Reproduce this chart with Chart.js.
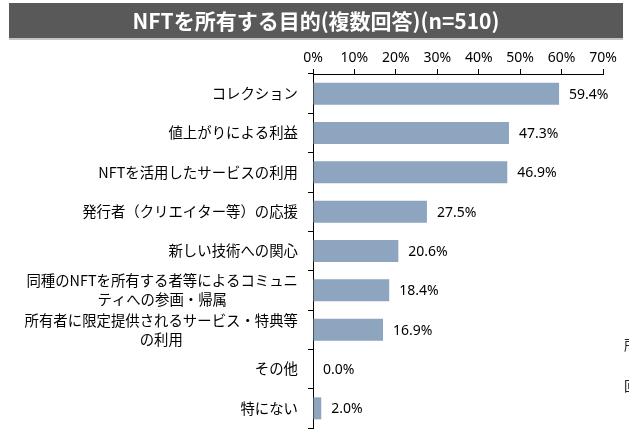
<!DOCTYPE html>
<html lang="ja">
<head>
<meta charset="utf-8">
<script src="https://cdn.jsdelivr.net/npm/chart.js@4.4.1/dist/chart.umd.min.js"></script>
<style>
  html, body { margin: 0; padding: 0; background: #fff; }
  #wrap { position: relative; width: 629px; height: 442px; overflow: hidden; }
  #c { position: absolute; left: 0; top: 0; }
  #title { position: absolute; left: 9px; top: 3px; width: 614px; height: 35px; background: #595959;
    color: #fff; font: bold 21px "Noto Sans CJK JP", sans-serif; line-height: 35px; text-align: center;
    box-shadow: 0 2px 0 #c4c4c4; }
  .stray { position: absolute; left: 624px; width: 5px; height: 16px; overflow: hidden;
    font: 14px "Noto Sans CJK JP", sans-serif; line-height: 16px; color: #222; }
</style>
</head>
<body>
<div id="wrap">
  <canvas id="c" width="629" height="442"></canvas>
  <div id="title">NFTを所有する目的(複数回答)(n=510)</div>
  <div class="stray" style="top:336px">所</div>
  <div class="stray" style="top:377px">回</div>
</div>
<script>
const categories = [
  "コレクション",
  "値上がりによる利益",
  "NFTを活用したサービスの利用",
  "発行者（クリエイター等）の応援",
  "新しい技術への関心",
  ["同種のNFTを所有する者等によるコミュニ", "ティへの参画・帰属"],
  ["所有者に限定提供されるサービス・特典等", "の利用"],
  "その他",
  "特にない"
];
const values = [59.4, 47.3, 46.9, 27.5, 20.6, 18.4, 16.9, 0.0, 2.0];
const tickValues = [0, 10, 20, 30, 40, 50, 60, 70];

const valueLabels = {
  id: 'valueLabels',
  afterDatasetsDraw(chart) {
    const ctx = chart.ctx;
    const meta = chart.getDatasetMeta(0);
    ctx.save();
    ctx.font = '14px "Noto Sans", sans-serif';
    ctx.fillStyle = '#000';
    ctx.textAlign = 'left';
    ctx.textBaseline = 'middle';
    meta.data.forEach((bar, i) => {
      ctx.fillText(values[i].toFixed(1) + '%', bar.x + 10, bar.y + 1);
    });
    ctx.restore();
  }
};

const catLabels = {
  id: 'catLabels',
  afterDraw(chart) {
    const ctx = chart.ctx;
    const ys = chart.scales.y;
    const rightX = 298;
    const lh = 19;
    ctx.save();
    ctx.font = '14.4px "Noto Sans CJK JP", sans-serif';
    ctx.fillStyle = '#000';
    ctx.textBaseline = 'middle';
    categories.forEach((lab, i) => {
      const lines = Array.isArray(lab) ? lab : [lab];
      const y0 = ys.getPixelForTick(i);
      const maxW = Math.max(...lines.map(l => ctx.measureText(l).width));
      const cx = rightX - maxW / 2;
      ctx.textAlign = lines.length > 1 ? 'center' : 'right';
      lines.forEach((l, j) => {
        const y = y0 + (j - (lines.length - 1) / 2) * lh;
        ctx.fillText(l, lines.length > 1 ? cx : rightX, y);
      });
    });
    ctx.restore();
  }
};

new Chart(document.getElementById('c'), {
  type: 'bar',
  data: {
    labels: categories,
    datasets: [{
      data: values,
      backgroundColor: '#8EA5BF',
      borderWidth: 0,
      barPercentage: 0.56,
      categoryPercentage: 1.0
    }]
  },
  options: {
    indexAxis: 'y',
    responsive: false,
    devicePixelRatio: 1,
    animation: false,
    layout: { padding: { left: 0, right: 26, top: 0, bottom: 14 } },
    plugins: { legend: { display: false }, tooltip: { enabled: false }, title: { display: false } },
    scales: {
      x: {
        position: 'top',
        min: 0,
        max: 70,
        afterBuildTicks(scale) { scale.ticks = tickValues.map(v => ({ value: v })); },
        ticks: {
          callback: v => v + '%',
          font: { family: '"Noto Sans", sans-serif', size: 14 },
          color: '#000',
          padding: 3,
          maxRotation: 0,
          autoSkip: false
        },
        grid: { drawOnChartArea: false, drawTicks: true, tickLength: 5, color: '#000', lineWidth: 1 },
        border: { display: true, color: '#000', width: 1 },
        afterFit(scale) { scale.height = 74; }
      },
      y: {
        ticks: { display: false },
        grid: { drawOnChartArea: false, drawTicks: true, tickLength: 5, color: '#000', lineWidth: 1, offset: true },
        border: { display: true, color: '#000', width: 1 },
        afterFit(scale) { scale.width = 313; }
      }
    }
  },
  plugins: [valueLabels, catLabels]
});
</script>
</body>
</html>
